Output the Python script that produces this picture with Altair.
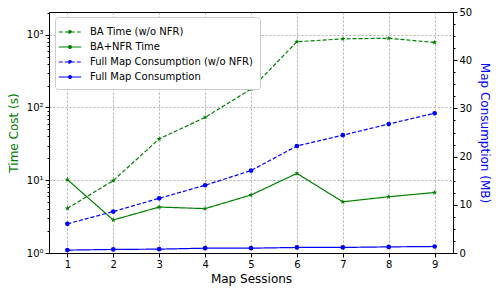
import altair as alt
import pandas as pd

sessions = [1, 2, 3, 4, 5, 6, 7, 8, 9]
ba_time_wo_nfr = [4.1, 9.9, 37, 73, 179, 800, 877, 893, 782]
ba_nfr_time = [10.2, 2.84, 4.28, 4.07, 6.27, 12.4, 5.05, 5.93, 6.78]
full_map_wo_nfr = [6.05, 8.6, 11.35, 14.05, 17.1, 22.2, 24.45, 26.75, 29.0]
full_map = [0.6, 0.74, 0.8, 1.0, 1.0, 1.15, 1.15, 1.27, 1.35]
series_names = ["BA Time (w/o NFR)", "BA+NFR Time",
                "Full Map Consumption (w/o NFR)", "Full Map Consumption"]
log_ticks = [1, 2, 3, 4, 5, 6, 7, 8, 9, 10, 20, 30, 40, 50, 60, 70, 80, 90,
             100, 200, 300, 400, 500, 600, 700, 800, 900, 1000, 2000]
mb_ticks = [0, 2.5, 5, 7.5, 10, 12.5, 15, 17.5, 20, 22.5, 25, 27.5, 30,
            32.5, 35, 37.5, 40, 42.5, 45, 47.5, 50]

rows = []
for name, vals in zip(series_names, [ba_time_wo_nfr, ba_nfr_time, full_map_wo_nfr, full_map]):
    for s, v in zip(sessions, vals):
        rows.append({"Session": s, "Series": name, "Value": v})
df = pd.DataFrame(rows)

GREEN = "#008000"
BLUE = "#0000ff"
STAR = ("M0,-1L0.235,-0.324L0.951,-0.309L0.38,0.124L0.588,0.809L0,0.4"
        "L-0.588,0.809L-0.38,0.124L-0.951,-0.309L-0.235,-0.324Z")
LEGEND_SYMBOL = ("M-1.6,0L1.6,0M-0.2,0A0.2,0.2,0,1,1,0.2,0"
                 "A0.2,0.2,0,1,1,-0.2,0")

legend = alt.Legend(title=None, orient="none", legendX=6, legendY=5,
                    fillColor="white", strokeColor="#cccccc", cornerRadius=3,
                    padding=7, symbolType=LEGEND_SYMBOL, symbolSize=196,
                    symbolStrokeWidth=1.3, labelFontSize=10, rowPadding=2,
                    labelFont="DejaVu Sans", labelColor="black", labelLimit=400,
                    labelOffset=12)

color = alt.Color("Series:N", scale=alt.Scale(domain=series_names,
                  range=[GREEN, GREEN, BLUE, BLUE]), legend=legend)
dash = alt.StrokeDash("Series:N", scale=alt.Scale(domain=series_names,
                      range=[[4, 2], [1, 0], [4, 2], [1, 0]]), legend=legend)
width_enc = alt.StrokeWidth("Series:N", scale=alt.Scale(domain=series_names,
                            range=[1.2, 1.2, 1.5, 2.2]), legend=None)

x = alt.X("Session:Q", scale=alt.Scale(domain=[0.6, 9.4], nice=False, zero=False),
          axis=alt.Axis(title="Map Sessions", values=sessions, format="d",
                        grid=True, tickSize=4))

major_log = "datum.value == 1 || datum.value == 10 || datum.value == 100 || datum.value == 1000"
y_left = alt.Y("Value:Q",
               scale=alt.Scale(type="log", domain=[1, 2050], nice=False),
               axis=alt.Axis(title="Time Cost (s)", titleColor=GREEN,
                             values=log_ticks, labelOverlap=False,
                             labelExpr="datum.value == 1 ? '10⁰' : datum.value == 10 ? '10¹' : datum.value == 100 ? '10²' : datum.value == 1000 ? '10³' : ''",
                             tickSize={"condition": {"test": major_log, "value": 4}, "value": 2},
                             gridOpacity={"condition": {"test": major_log, "value": 1}, "value": 0},
                             grid=True, titlePadding=6))
y_right = alt.Y("Value:Q",
                scale=alt.Scale(domain=[0, 50], nice=False, zero=True),
                axis=alt.Axis(title="Map Consumption (MB)", titleColor=BLUE,
                              orient="right", values=mb_ticks, labelOverlap=False,
                              labelExpr="datum.value % 10 == 0 ? format(datum.value, 'd') : ''",
                              tickSize={"condition": {"test": "datum.value % 10 == 0", "value": 4}, "value": 2},
                              grid=False, titlePadding=6))

left_data = df[df["Series"].isin(series_names[:2])]
right_data = df[df["Series"].isin(series_names[2:])]

left = alt.layer(
    alt.Chart(left_data).mark_line().encode(x=x, y=y_left, color=color,
                                            strokeDash=dash, strokeWidth=width_enc,
                                            detail="Series:N"),
    alt.Chart(left_data).mark_point(filled=True, size=30, opacity=1, shape=STAR).encode(
        x=x, y=y_left, color=color),
)
right = alt.layer(
    alt.Chart(right_data).mark_line().encode(x=x, y=y_right, color=color,
                                             strokeDash=dash, strokeWidth=width_enc,
                                             detail="Series:N"),
    alt.Chart(right_data).mark_point(filled=True, size=22, opacity=1, shape="circle").encode(
        x=x, y=y_right, color=color),
)

chart = alt.layer(left, right).resolve_scale(y="independent").properties(
    width=404, height=241,
    autosize=alt.AutoSizeParams(type="none"),
    padding={"left": 41, "top": 4, "right": 43, "bottom": 35},
).configure_view(stroke="black", strokeWidth=1).configure_axis(
    labelFont="DejaVu Sans", labelFontSize=10, labelColor="black",
    titleFont="DejaVu Sans", titleFontSize=12, titleFontWeight="normal",
    domainColor="black", tickColor="black", gridColor="#999999",
    gridDash=[2, 2], gridWidth=0.8,
)

chart.save("out.html", embed_options={"renderer": "svg", "actions": False})
